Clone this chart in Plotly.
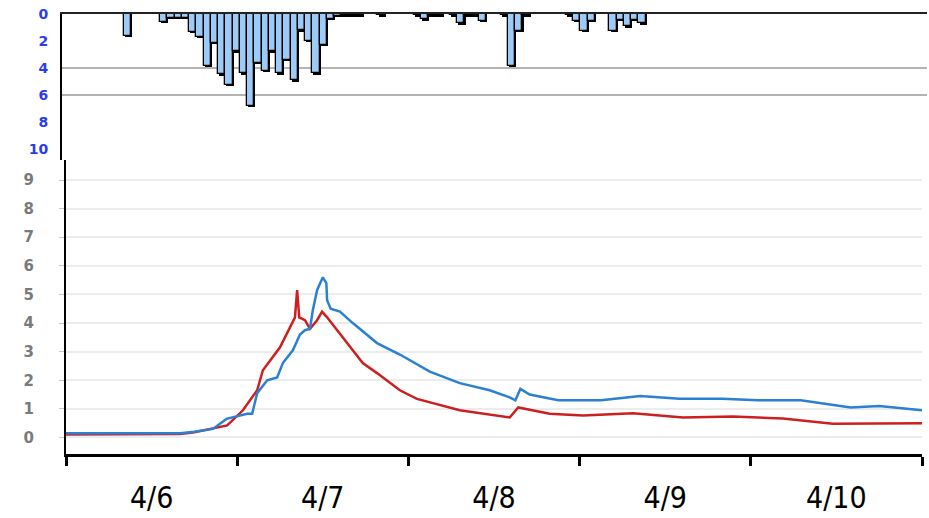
import pandas as pd
import plotly.graph_objects as go

# ---------------- data ----------------
start = pd.Timestamp("2021-04-06 00:00")

# hourly rainfall (hour index from 4/6 00:00, mm)
rain_hours = [9, 14, 15, 16, 17, 18, 19, 20, 21, 22, 23, 24, 25, 26, 27, 28, 29, 30,
              31, 32, 33, 34, 35, 36, 37, 38, 39, 40, 41, 44, 49, 50, 51, 52, 54,
              55, 56, 57, 58, 61, 62, 63, 64, 70, 71, 72, 73, 76, 77, 78, 79, 80]
rain_mm = [1.6, 0.6, 0.3, 0.3, 0.3, 1.3, 1.7, 3.85, 2.15, 4.45, 5.25, 2.75, 4.4, 6.8,
           3.6, 4.2, 2.75, 4.4, 3.4, 4.9, 1.2, 2.0, 4.4, 2.3, 0.35, 0.15, 0.1, 0.1,
           0.1, 0.1, 0.1, 0.4, 0.1, 0.1, 0.1, 0.7, 0.1, 0.1, 0.5, 0.1, 3.85, 1.25,
           0.1, 0.1, 0.5, 1.25, 0.5, 1.25, 0.45, 0.9, 0.45, 0.7]

# water level series (hours from 4/6 00:00, value)
blue_h = [0, 8, 16, 18, 20.6, 22.5, 25.4, 26.1, 26.8, 28.2, 29.6, 30.4, 31.8, 32.8,
          33.5, 34.2, 34.6, 35.2, 36.0, 36.5, 36.6, 37.1, 38.4, 40.2, 42.2, 43.6,
          46.8, 51, 55.2, 59.4, 62.2, 63, 63.7, 65, 69, 75, 80.5, 86, 92, 97, 103,
          107, 110, 114, 120]
blue_v = [0.15, 0.15, 0.15, 0.2, 0.3, 0.65, 0.83, 0.83, 1.55, 2.0, 2.1, 2.6, 3.05,
          3.6, 3.75, 3.8, 4.45, 5.15, 5.6, 5.4, 4.8, 4.5, 4.4, 4.0, 3.6, 3.3, 2.9,
          2.3, 1.9, 1.65, 1.4, 1.3, 1.7, 1.5, 1.3, 1.3, 1.45, 1.35, 1.35, 1.3, 1.3,
          1.15, 1.05, 1.1, 0.95]
red_h = [0, 16, 18, 20.2, 22.6, 24.8, 25.8, 26.8, 27.6, 28.6, 30, 31.4, 32.1, 32.4,
         32.7, 33.5, 34.2, 35.2, 35.9, 36.6, 38, 39.8, 41.6, 43.6, 46.8, 49.2, 55.2,
         62.2, 63.4, 67.8, 72.5, 79.5, 86.5, 93.5, 100.5, 107.5, 120]
red_v = [0.1, 0.12, 0.18, 0.3, 0.42, 0.95, 1.3, 1.65, 2.35, 2.7, 3.15, 3.85, 4.2,
         5.15, 4.2, 4.1, 3.8, 4.1, 4.4, 4.2, 3.75, 3.15, 2.6, 2.25, 1.65, 1.35, 0.95,
         0.7, 1.05, 0.83, 0.77, 0.85, 0.7, 0.73, 0.66, 0.48, 0.5]

rain_ticks = [0, 2, 4, 6, 8, 10]
rain_grid = [4, 6]
level_ticks = list(range(0, 10))

# ---------------- figure ----------------
W, H = 929, 518
hr = pd.Timedelta(hours=1)

def px_x(p):
    return p / W

def px_y(p):
    return 1 - p / H

rain_t = [start + h * hr + 0.5 * hr for h in rain_hours]
shadow_t = [t + pd.Timedelta(minutes=10) for t in rain_t]
shadow_v = [v + 0.1 for v in rain_mm]

fig = go.Figure()
fig.add_trace(go.Bar(x=shadow_t, y=shadow_v, width=3600000,
                     marker=dict(color="#000000", line=dict(width=0)),
                     xaxis="x2", yaxis="y2", showlegend=False))
fig.add_trace(go.Bar(x=rain_t, y=rain_mm, width=3600000,
                     marker=dict(color="#9ccbf7", line=dict(width=1.3, color="#000000")),
                     xaxis="x2", yaxis="y2", showlegend=False))

fig.add_trace(go.Scatter(x=[start + h * hr for h in red_h], y=red_v, mode="lines",
                         line=dict(color="#cc2020", width=2.5), showlegend=False))
fig.add_trace(go.Scatter(x=[start + h * hr for h in blue_h], y=blue_v, mode="lines",
                         line=dict(color="#2a80d2", width=2.5), showlegend=False))

for g in rain_grid:
    fig.add_shape(type="line", xref="x2 domain", yref="y2", x0=0, x1=1, y0=g, y1=g,
                  line=dict(color="#9a9a9a", width=1.5), layer="below")

fig.update_layout(
    width=W, height=H,
    margin=dict(l=0, r=0, t=0, b=0, autoexpand=False),
    paper_bgcolor="white", plot_bgcolor="white",
    barmode="overlay", bargap=0,
    xaxis=dict(
        domain=[px_x(66), px_x(922)], anchor="y", type="date", automargin=False,
        range=[start, start + 120 * hr],
        dtick=86400000, tick0=start, ticklabelmode="period", tickformat="%-m/%-d",
        showline=True, linecolor="black", linewidth=3,
        ticks="outside", ticklen=9, tickwidth=3, tickcolor="black",
        showgrid=False, zeroline=False,
        tickfont=dict(family="Liberation Sans Narrow, DejaVu Sans Condensed, Arial", size=30, color="black"),
        ticklabelstandoff=6,
    ),
    yaxis=dict(
        domain=[px_y(453.5), px_y(160)], anchor="x", automargin=False,
        range=[-0.56, 9.7], tickvals=level_ticks,
        showline=True, linecolor="black", linewidth=2,
        ticks="outside", ticklen=5, tickcolor="#c8c8c8",
        showgrid=True, gridcolor="#ececec", gridwidth=2, zeroline=False,
        tickfont=dict(family="DejaVu Sans", size=15, color="#7a7a7a", weight="bold"),
        ticklabelstandoff=22,
    ),
    xaxis2=dict(
        domain=[px_x(62), px_x(927)], anchor="y2", type="date", side="top", automargin=False,
        range=[start + 0.48 * hr, start + 119.8 * hr],
        showline=True, linecolor="#222222", linewidth=1.5,
        showticklabels=False, ticks="", showgrid=False, zeroline=False,
    ),
    yaxis2=dict(
        domain=[px_y(160), px_y(14)], anchor="x2", automargin=False,
        range=[10.8, 0], tickvals=rain_ticks,
        showline=True, linecolor="black", linewidth=2,
        ticks="", showgrid=False, zeroline=False,
        tickfont=dict(family="DejaVu Sans", size=14, color="#2b3cf0", weight="bold"),
        ticklabelstandoff=9,
    ),
)

fig.write_html("out.html")
